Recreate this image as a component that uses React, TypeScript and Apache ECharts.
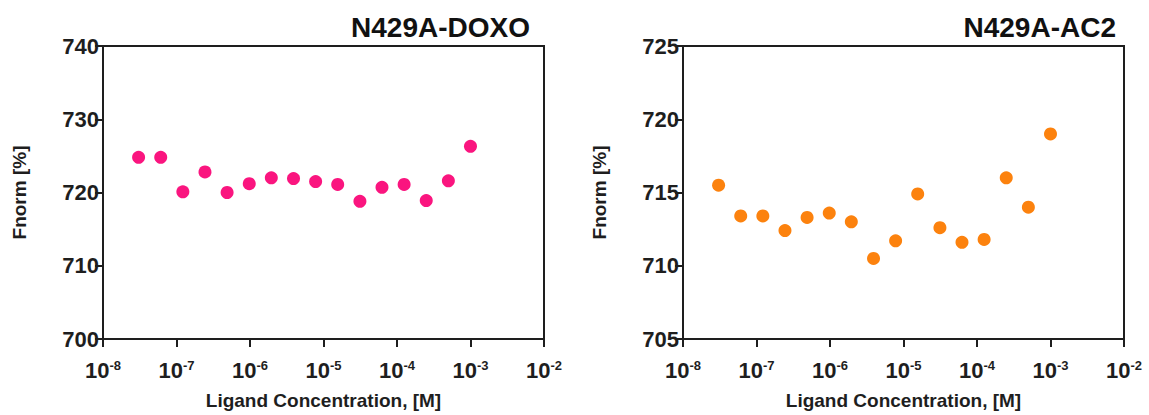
import React, { useEffect, useRef } from "react";
import * as echarts from "echarts";

const concentrations = [
  3.05e-8, 6.1e-8, 1.22e-7, 2.44e-7, 4.88e-7, 9.77e-7, 1.95e-6, 3.91e-6,
  7.81e-6, 1.56e-5, 3.13e-5, 6.25e-5, 1.25e-4, 2.5e-4, 5e-4, 1e-3,
];
const doxoValues = [
  724.8, 724.8, 720.1, 722.8, 720.0, 721.2, 722.0, 721.9, 721.5, 721.1,
  718.8, 720.7, 721.1, 718.9, 721.6, 726.3,
];
const ac2Values = [
  715.5, 713.4, 713.4, 712.4, 713.3, 713.6, 713.0, 710.5, 711.7, 714.9,
  712.6, 711.6, 711.8, 716.0, 714.0, 719.0,
];
const titles = ["N429A-DOXO", "N429A-AC2"];
const xTitle = "Ligand Concentration, [M]";
const yTitle = "Fnorm [%]";
const yRanges = [
  { min: 700, max: 740, interval: 10 },
  { min: 705, max: 725, interval: 5 },
];
const colors = ["#FA157F", "#FC820E"];

const FONT = "'Liberation Sans', Arial, sans-serif";
const INK = "#1e1e1e";

export default function App() {
  const ref = useRef<HTMLDivElement>(null);
  useEffect(() => {
    if (!ref.current) return;
    const chart = echarts.init(ref.current, undefined, { renderer: "svg" });
    const gridLefts = [103, 683];
    const grids = gridLefts.map((l) => ({
      left: l,
      top: 46,
      width: 441,
      height: 296,
      show: true,
      borderColor: INK,
      borderWidth: 2,
      backgroundColor: "transparent",
    }));
    const xAxes = [0, 1].map((i) => ({
      type: "log",
      logBase: 10,
      gridIndex: i,
      min: 1e-8,
      max: 1e-2,
      interval: 1,
      name: xTitle,
      nameLocation: "middle",
      nameGap: 52,
      nameTextStyle: { fontFamily: FONT, fontWeight: "bold", fontSize: 19, color: INK },
      axisLine: { show: true, lineStyle: { color: INK, width: 2 } },
      axisTick: { show: true, inside: false, length: 8, lineStyle: { color: INK, width: 2 } },
      splitLine: { show: false },
      minorTick: { show: false },
      axisLabel: {
        margin: 20,
        formatter: (v: number) => {
          const e = Math.round(Math.log10(v));
          return `{b|10}{s|${e}}`;
        },
        rich: {
          b: { fontFamily: FONT, fontWeight: "bold", fontSize: 22, color: INK },
          s: {
            fontFamily: FONT,
            fontWeight: "bold",
            fontSize: 13,
            color: INK,
            verticalAlign: "top",
          },
        },
      },
    }));
    const yAxes = [0, 1].map((i) => ({
      type: "value",
      gridIndex: i,
      min: yRanges[i].min,
      max: yRanges[i].max,
      interval: yRanges[i].interval,
      name: yTitle,
      nameLocation: "middle",
      nameGap: 74,
      nameTextStyle: { fontFamily: FONT, fontWeight: "bold", fontSize: 19, color: INK },
      axisLine: { show: true, lineStyle: { color: INK, width: 2 } },
      axisTick: { show: true, inside: false, length: 8, lineStyle: { color: INK, width: 2 } },
      splitLine: { show: false },
      axisLabel: {
        margin: 4,
        fontFamily: FONT,
        fontWeight: "bold",
        fontSize: 22,
        color: INK,
      },
    }));
    const series = [doxoValues, ac2Values].map((vals, i) => ({
      type: "scatter",
      xAxisIndex: i,
      yAxisIndex: i,
      symbol: "circle",
      symbolSize: 13,
      itemStyle: { color: colors[i], opacity: 1 },
      data: concentrations.map((c, k) => [c, vals[k]]),
    }));
    chart.setOption({
      animation: false,
      backgroundColor: "#ffffff",
      title: [
        {
          text: titles[0],
          right: 619,
          top: 13,
          padding: 0,
          textStyle: { fontFamily: FONT, fontWeight: "bold", fontSize: 28, color: "#111" },
        },
        {
          text: titles[1],
          right: 33,
          top: 13,
          padding: 0,
          textStyle: { fontFamily: FONT, fontWeight: "bold", fontSize: 28, color: "#111" },
        },
      ],
      grid: grids,
      xAxis: xAxes,
      yAxis: yAxes,
      series,
    });
    return () => chart.dispose();
  }, []);
  return (
    <div
      ref={ref}
      style={{ position: "fixed", left: 0, top: 0, width: 1149, height: 415 }}
    />
  );
}
